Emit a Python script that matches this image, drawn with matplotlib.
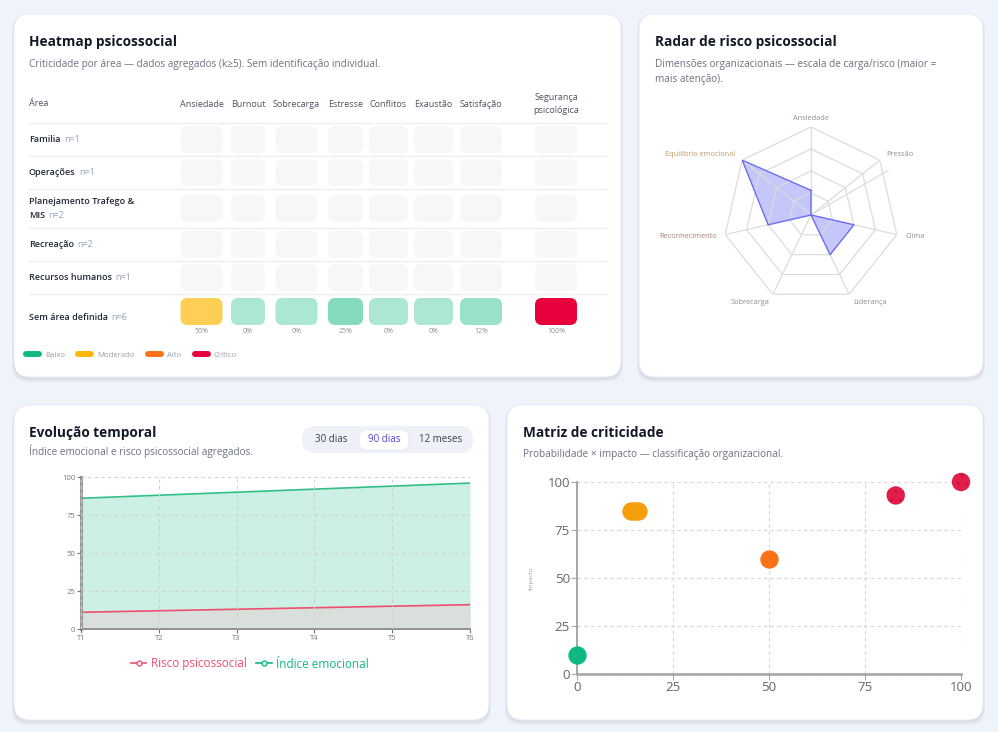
import numpy as np
import matplotlib
matplotlib.use('Agg')
import matplotlib.pyplot as plt
from matplotlib.patches import FancyBboxPatch, Rectangle
from matplotlib.lines import Line2D

plt.rcParams['font.family'] = ['Open Sans', 'DejaVu Sans']

W, H = 998, 732
BG = '#eff3fa'

# Heatmap data
heat_areas = ['Familia', 'Operações', 'Planejamento Trafego &\nMIS', 'Recreação',
              'Recursos humanos', 'Sem área definida']
heat_n = [1, 1, 2, 2, 1, 6]
heat_cols = ['Ansiedade', 'Burnout', 'Sobrecarga', 'Estresse', 'Conflitos', 'Exaustão',
             'Satisfação', 'Segurança\npsicológica']
heat_values = [None, None, None, None, None, [50, 0, 0, 25, 0, 0, 12, 100]]
levels = ['Baixo', 'Moderado', 'Alto', 'Crítico']

# Radar data
radar_dims = ['Ansiedade', 'Pressão', 'Clima', 'Liderança', 'Sobrecarga',
              'Reconhecimento', 'Equilíbrio emocional']
radar_values = [28, 0, 50, 50, 0, 50, 100]

# Evolution data
periods = ['T1', 'T2', 'T3', 'T4', 'T5', 'T6']
indice_emocional = [86, 88, 90, 92, 94, 96]
risco_psicossocial = [11, 12, 13, 14, 15, 16]
ranges = ['30 dias', '90 dias', '12 meses']
selected_range = '90 dias'

# Criticality matrix data
matrix_prob = [0, 14, 15, 16, 50, 83, 100]
matrix_impact = [10, 85, 85, 85, 60, 93, 100]
matrix_level = ['Baixo', 'Moderado', 'Moderado', 'Moderado', 'Alto', 'Crítico', 'Crítico']

# styles
level_colors = {'Baixo': '#10b981', 'Moderado': '#ffb703', 'Alto': '#f97316', 'Crítico': '#e8003d'}
matrix_colors = {'Baixo': '#10b981', 'Moderado': '#f59e0b', 'Alto': '#f97316', 'Crítico': '#e11d48'}
col_widths = [53, 40, 57, 41, 45, 45, 50, 100]
row_heights = [33, 33, 39, 33, 33, 46]


def rect(x0, y0, x1, y1):
    # pixel box (top-left origin) -> figure fraction rect
    return [x0 / W, 1 - y1 / H, (x1 - x0) / W, (y1 - y0) / H]


def heat_color(v):
    if v <= 25:
        lvl = 'Baixo'
    elif v <= 50:
        lvl = 'Moderado'
    elif v <= 75:
        lvl = 'Alto'
    else:
        lvl = 'Crítico'
    base = np.array(matplotlib.colors.to_rgb(level_colors[lvl]))
    a = 0.35 + 0.65 * v / 100
    return tuple(1 - a * (1 - base))


fig = plt.figure(figsize=(W / 100, H / 100), dpi=100, facecolor=BG)
cv = fig.add_axes([0, 0, 1, 1])
cv.set_xlim(0, W)
cv.set_ylim(H, 0)
cv.axis('off')


def card(x0, y0, x1, y1):
    for k in range(1, 5):
        cv.add_patch(FancyBboxPatch((x0 - k * 0.5, y0 + 1), x1 - x0 + k, y1 - y0 + k,
                                    boxstyle='round,pad=0,rounding_size=16',
                                    fc='#7a8aa8', ec='none', alpha=0.05))
    cv.add_patch(FancyBboxPatch((x0, y0), x1 - x0, y1 - y0,
                                boxstyle='round,pad=0,rounding_size=16',
                                fc='white', ec='#e6eaf1', lw=0.6))


def header(x, y, title, subtitle, sub_dy=22):
    cv.text(x, y, title, fontsize=9.8, fontweight='bold', color='#111827', va='center')
    cv.text(x, y + sub_dy, subtitle, fontsize=7.2, color='#6b7280', va='center',
            linespacing=1.55)


card(14, 14, 621, 377)
card(639, 14, 983, 377)
card(14, 405, 489, 720)
card(507, 405, 983, 720)

# ---------------- Heatmap ----------------
header(29, 42, 'Heatmap psicossocial',
       'Criticidade por área — dados agregados (k≥5). Sem identificação individual.')
cv.text(29, 104, 'Área', fontsize=6.5, color='#4b5563', va='center')

hm_top, hm_left = 123, 175
hm = fig.add_axes(rect(hm_left, hm_top, hm_left + sum(col_widths), hm_top + sum(row_heights)))
hm.set_xlim(0, sum(col_widths))
hm.set_ylim(sum(row_heights), 0)
hm.axis('off')

col_edges = np.concatenate([[0], np.cumsum(col_widths)])
row_edges = np.concatenate([[0], np.cumsum(row_heights)])

for j, name in enumerate(heat_cols):
    cx = (col_edges[j] + col_edges[j + 1]) / 2
    hm.text(cx, -19, name, fontsize=6.5, color='#4b5563', ha='center', va='center',
            linespacing=1.5, clip_on=False)

cv.plot([29, 606], [hm_top, hm_top], color='#eceff3', lw=1)
for i, area in enumerate(heat_areas):
    top = row_edges[i]
    rh = row_heights[i]
    if i < len(heat_areas) - 1:
        cv.plot([29, 606], [hm_top + row_edges[i + 1]] * 2, color='#eceff3', lw=1)
    # row label
    lines = area.split('\n')
    yc = hm_top + top + rh / 2
    for k, ln in enumerate(lines):
        ly = yc + (k - (len(lines) - 1) / 2) * 13
        t = cv.text(29, ly, ln, fontsize=6.5, fontweight='semibold', color='#1f2937', va='center')
    cv.annotate(f'n={heat_n[i]}', xy=(1, 0.5), xycoords=t, xytext=(2.5, 0),
                textcoords='offset points', fontsize=6.5, color='#94a3b8', va='center')
    vals = heat_values[i]
    for j in range(len(heat_cols)):
        cw = min(col_widths[j] - 6, 42)
        ch = 27
        cx = (col_edges[j] + col_edges[j + 1]) / 2
        if vals is None:
            cy0 = top + (rh - ch) / 2
            fc = '#f6f7f9'
        else:
            cy0 = top + 4
            fc = heat_color(vals[j])
            hm.text(cx, cy0 + ch + 6, f'{vals[j]}%', fontsize=5, color='#8a9099',
                    ha='center', va='center')
        hm.add_patch(FancyBboxPatch((cx - cw / 2, cy0), cw, ch,
                                    boxstyle='round,pad=0,rounding_size=7',
                                    fc=fc, ec='none'))

leg_handles = [Line2D([], [], color=level_colors[l], lw=4.3, solid_capstyle='round') for l in levels]
fig.legend(leg_handles, levels, loc='center left', bbox_to_anchor=(26 / W, 1 - 355 / H),
           ncol=4, frameon=False, fontsize=5.6, handlelength=1.65, handletextpad=0.8,
           columnspacing=1.7, labelcolor='#9aa0a8', borderaxespad=0, borderpad=0)

# ---------------- Radar ----------------
header(655, 42, 'Radar de risco psicossocial',
       'Dimensões organizacionais — escala de carga/risco (maior =\nmais atenção).', sub_dy=30)

rd = fig.add_axes(rect(811 - 88, 215 - 88, 811 + 88, 215 + 88), projection='polar')
rd.set_theta_zero_location('N')
rd.set_theta_direction(-1)
rd.set_ylim(0, 100)
rd.axis('off')
ang = np.linspace(0, 2 * np.pi, len(radar_dims), endpoint=False)
ang_c = np.append(ang, ang[0])
for ring in [25, 50, 75, 100]:
    rd.plot(ang_c, [ring] * len(ang_c), color='#dcdcdc', lw=0.9)
for a in ang:
    rd.plot([a, a], [0, 100], color='#dcdcdc', lw=0.9)
# stray axis line visible in the original render
rd.plot([np.radians(60), np.radians(60)], [0, 101], color='#dcdcdc', lw=0.9, clip_on=False)
vals_c = np.append(radar_values, radar_values[0])
rd.fill(ang_c, vals_c, color='#6366f1', alpha=0.37, lw=0)
rd.plot(ang_c, vals_c, color='#6b6ff2', lw=1)
label_colors = ['#8a8f98'] * 5 + ['#a88474', '#c09a6b']
for a, name, lc in zip(ang, radar_dims, label_colors):
    s = np.sin(a)
    ha = 'center' if abs(s) < 0.1 else ('left' if s > 0 else 'right')
    rd.text(a, 110, name, fontsize=5.3, color=lc, ha=ha, va='center', clip_on=False)

# ---------------- Evolução temporal ----------------
header(29, 433, 'Evolução temporal',
       'Índice emocional e risco psicossocial agregados.', sub_dy=18)
cv.add_patch(FancyBboxPatch((302, 426), 171, 27, boxstyle='round,pad=0,rounding_size=13',
                            fc='#eef1f6', ec='none'))
range_x = [331, 384, 441]
for rx, lab in zip(range_x, ranges):
    if lab == selected_range:
        cv.add_patch(FancyBboxPatch((rx - 25, 430), 50, 20, boxstyle='round,pad=0,rounding_size=8',
                                    fc='white', ec='#e3e7ee', lw=0.5))
        cv.text(rx, 440, lab, fontsize=7, color='#4f46e5', ha='center', va='center')
    else:
        cv.text(rx, 440, lab, fontsize=7, color='#374151', ha='center', va='center')

ev = fig.add_axes(rect(81, 477, 470, 629))
ev.patch.set_alpha(0)
x = np.arange(len(periods))
ev.fill_between(x, 0, indice_emocional, color='#10b981', alpha=0.21, lw=0)
ev.plot(x, indice_emocional, color='#2fbf87', lw=1.2)
ev.fill_between(x, 0, risco_psicossocial, color='#d9dfda', lw=0)
ev.plot(x, risco_psicossocial, color='#ef4f6f', lw=1.2)
ev.set_xlim(0, len(periods) - 1)
ev.set_ylim(0, 100)
ev.set_xticks(x, periods)
ev.set_yticks([0, 25, 50, 75, 100])
ev.grid(True, ls=(0, (3, 3)), color='#d0d0d0', lw=0.8)
ev.set_axisbelow(False)
ev.tick_params(labelsize=5.5, colors='#777777', length=3, pad=1)
for sp in ['top', 'right']:
    ev.spines[sp].set_visible(False)
ev.spines['left'].set_color('#9a9a9a')
ev.spines['left'].set_linewidth(2.2)
ev.spines['bottom'].set_color('#8a8a8a')
ev.spines['bottom'].set_linewidth(1.3)
clip_ev = Rectangle((0, 0), 473 / W, 1, transform=fig.transFigure)
for lbl in ev.get_xticklabels():
    lbl.set_clip_path(clip_ev)

ev_handles = [Line2D([], [], color='#ef4f6f', marker='o', mfc='white', ms=3.5, lw=1.2),
              Line2D([], [], color='#10b981', marker='o', mfc='white', ms=3.5, lw=1.2)]
leg = ev.legend(ev_handles, ['Risco psicossocial', 'Índice emocional'], loc='center',
                bbox_to_anchor=((250 - 81) / 389, (629 - 664) / 152), ncol=2, frameon=False,
                fontsize=8.5, handlelength=1.3, handletextpad=0.4, columnspacing=0.8)
for txt, c in zip(leg.get_texts(), ['#ef4f6f', '#10b981']):
    txt.set_color(c)

# ---------------- Matriz de criticidade ----------------
header(523, 433, 'Matriz de criticidade',
       'Probabilidade × impacto — classificação organizacional.', sub_dy=21)

mx = fig.add_axes(rect(577, 482, 961, 674))
mx.patch.set_alpha(0)
plt.rcParams['hatch.linewidth'] = 0.6
for lvl in levels:
    px = [p for p, l in zip(matrix_prob, matrix_level) if l == lvl]
    py = [q for q, l in zip(matrix_impact, matrix_level) if l == lvl]
    if lvl == 'Crítico':
        mx.scatter(px, py, s=175, color=matrix_colors[lvl], edgecolors='#c0123d',
                   linewidths=0, hatch='..', clip_on=False, zorder=3)
    else:
        mx.scatter(px, py, s=175, color=matrix_colors[lvl], linewidths=0,
                   clip_on=False, zorder=3)
mx.set_xlim(0, 100)
mx.set_ylim(0, 100)
mx.set_xticks([0, 25, 50, 75, 100])
mx.set_yticks([0, 25, 50, 75, 100])
mx.grid(True, ls=(0, (3, 3)), color='#d6d6d6', lw=0.8)
mx.set_axisbelow(True)
mx.tick_params(labelsize=9.5, colors='#666666', length=4, pad=1, color='#aaaaaa')
for sp in ['top', 'right']:
    mx.spines[sp].set_visible(False)
mx.spines['left'].set_color('#999999')
mx.spines['left'].set_linewidth(1.2)
mx.spines['bottom'].set_color('#aaaaaa')
mx.spines['bottom'].set_linewidth(2)
mx.set_ylabel('Impacto', fontsize=4.5, color='#9aa0a8')
mx.yaxis.set_label_coords((533 - 577) / 384, 0.5)
mx.set_xlabel('Probabilidade', fontsize=5, color='#9aa0a8')
mx.xaxis.set_label_coords(0.5, (674 - 707) / 192)
clip_mx = Rectangle((0, 1 - 705 / H), 1, 705 / H, transform=fig.transFigure)
mx.xaxis.label.set_clip_path(clip_mx)

fig.savefig('out.png', dpi=100, facecolor=BG)
